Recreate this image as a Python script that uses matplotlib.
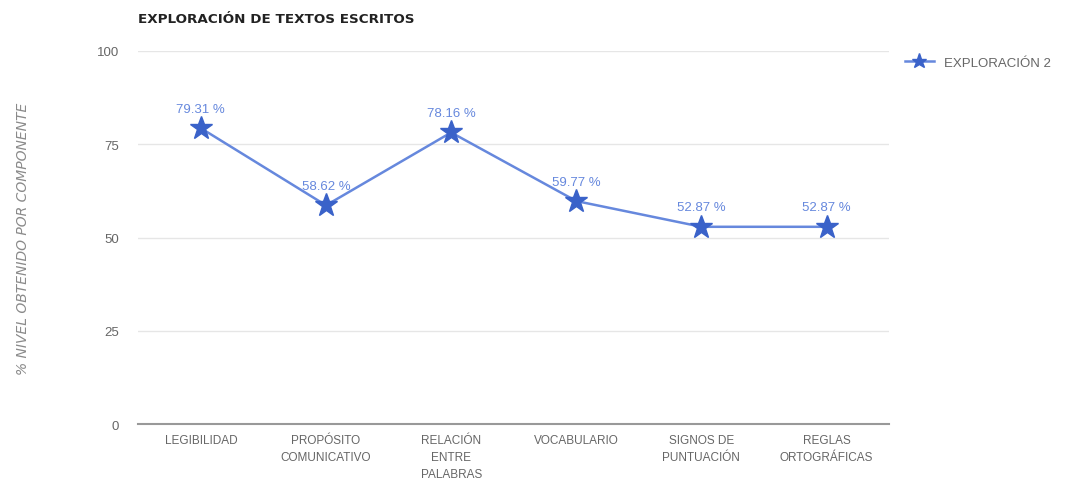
import matplotlib
matplotlib.use("Agg")
import matplotlib.pyplot as plt

# chart data
categories = ["LEGIBILIDAD", "PROPÓSITO\nCOMUNICATIVO", "RELACIÓN\nENTRE\nPALABRAS",
              "VOCABULARIO", "SIGNOS DE\nPUNTUACIÓN", "REGLAS\nORTOGRÁFICAS"]
values = [79.31, 58.62, 78.16, 59.77, 52.87, 52.87]
yticks = [0, 25, 50, 75, 100]
series_name = "EXPLORACIÓN 2"

line_color = "#6688dd"
marker_color = "#3a62c9"
grey = "#666666"

plt.rcParams['font.family'] = ['Liberation Sans', 'DejaVu Sans']

fig = plt.figure(figsize=(10.68, 4.81), dpi=100)
ax = fig.add_axes([0.1295, 0.1164, 0.703, 0.7755])

x = list(range(len(categories)))
ax.plot(x, values, color=line_color, linewidth=1.8, marker="*", markersize=17,
        markerfacecolor=marker_color, markeredgecolor=marker_color, label=series_name,
        zorder=3)

for xi, v in zip(x, values):
    ax.annotate("{:.2f} %".format(v), (xi, v), xytext=(0, 14), textcoords="offset points",
                ha="center", va="center", fontsize=9.5, color=line_color)

ax.set_xlim(-0.5, len(categories) - 0.5)
ax.set_ylim(0, 100)
ax.set_yticks(yticks)
ax.set_xticks(x)
ax.set_xticklabels(categories, fontsize=8.5, color=grey, linespacing=1.55)
ax.tick_params(axis="y", labelsize=9.5, labelcolor=grey, length=0, pad=14)
ax.tick_params(axis="x", length=0, pad=7)
ax.grid(axis="y", color="#e6e6e6", linewidth=1)
ax.set_axisbelow(True)
for side in ["top", "right", "left"]:
    ax.spines[side].set_visible(False)
ax.spines["bottom"].set_color("#999999")
ax.spines["bottom"].set_linewidth(1.5)

ax.set_ylabel("% NIVEL OBTENIDO POR COMPONENTE", fontsize=10, color="#8a8a8a",
              style="italic", family="DejaVu Sans", labelpad=48)

fig.text(0.1295, 0.96, "EXPLORACIÓN DE TEXTOS ESCRITOS", fontsize=9.7,
         fontweight="bold", color="#222222", ha="left", va="center",
         family="DejaVu Sans")

leg = ax.legend(loc="upper left", bbox_to_anchor=(1.005, 1.017), frameon=False,
                fontsize=9.5, handlelength=2.2, markerscale=0.65)
for t in leg.get_texts():
    t.set_color(grey)

fig.savefig("out.png", dpi=100)
